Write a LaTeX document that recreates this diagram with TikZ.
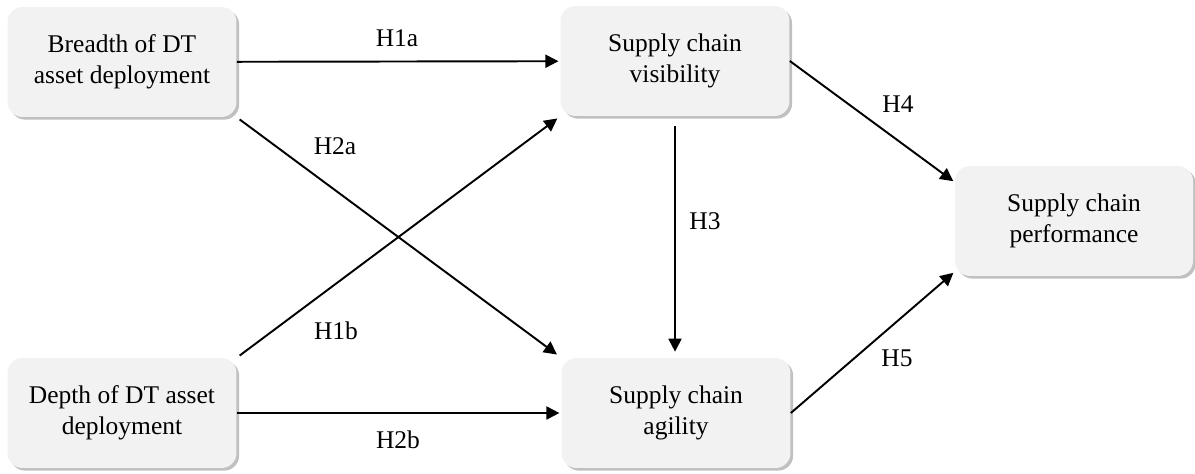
\documentclass[tikz,border=0pt]{standalone}
\usepackage{fontspec}
\setmainfont{Liberation Serif}
\usetikzlibrary{arrows.meta,shadows}
\begin{document}
\begin{tikzpicture}[
        x=0.02cm, y=-0.02cm,
        every node/.style={font=\fontsize{14.5}{17.4}\selectfont},
        boxn/.style={fill=black!5, rounded corners=0.3cm, minimum width=4.58cm, minimum height=2.2cm, align=center,
            drop shadow={shadow xshift=1.5pt, shadow yshift=-1.5pt, fill=black!45, opacity=.55}},
        hyp/.style={draw, -{Triangle[length=7.4pt, width=7.4pt]}, line width=1.1pt},
    ]
    \useasboundingbox (0,0) rectangle (1195,473);
    \node[boxn](breadth) at (122,62) {Breadth of DT\\asset deployment};
    \node[boxn](depth) at (122,413) {Depth of DT asset\\deployment};
    \node[boxn](vis) at (675,61) {Supply chain\\visibility};
    \node[boxn](agility) at (676,413) {Supply chain\\agility};
    \node[boxn, minimum width=4.76cm](perf) at (1074,221) {Supply chain\\performance};

    \draw[hyp, shorten >=1pt] (breadth) -- (vis);
    \draw[hyp, shorten <=2pt, shorten >=3pt] (breadth.south east) -- (agility.north west);
    \draw[hyp, shorten <=2pt, shorten >=2pt] (depth.north east) -- (vis.south west);
    \draw[hyp, shorten >=1pt] (depth) -- (agility);
    \draw[hyp, shorten <=5.5pt, shorten >=3.4pt] (vis.south) -- (vis.south |- agility.north);
    \draw[hyp, shorten >=1pt] (vis.east) -- (perf.162);
    \draw[hyp, shorten >=1pt] (agility.east) -- (perf.203);

    \node(lh1a) at (397,38) {H1a};
    \node(lh2a) at (335,146) {H2a};
    \node(lh1b) at (336,331) {H1b};
    \node(lh2b) at (398,440) {H2b};
    \node(lh3) at (705,221) {H3};
    \node(lh4) at (898,104) {H4};
    \node(lh5) at (897,358) {H5};
\end{tikzpicture}
\end{document}
